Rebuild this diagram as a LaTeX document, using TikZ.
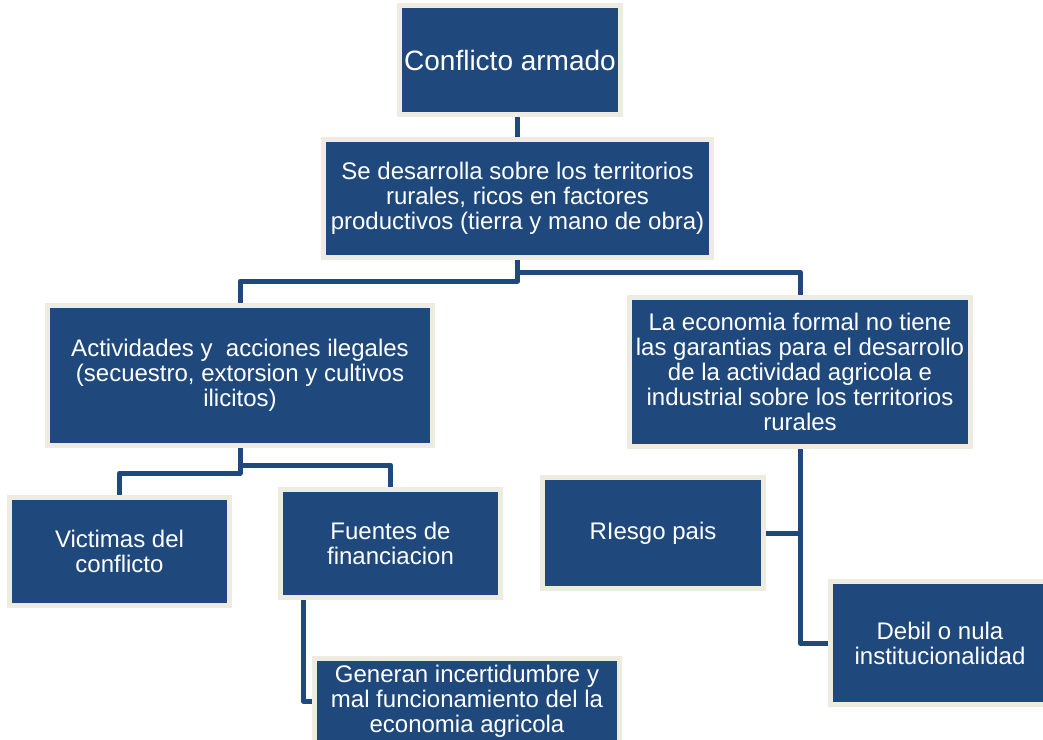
\documentclass[tikz,border=0pt]{standalone}
\usepackage{fontspec}
\setmainfont{Liberation Sans}
\usetikzlibrary{backgrounds}
\definecolor{boxblue}{HTML}{1F497D}
\definecolor{boxcream}{HTML}{EEECE1}
\tikzset{
	box/.style={rectangle, fill=boxblue, draw=boxcream, line width=5pt, text=white, align=center, inner sep=0pt, font=\fontsize{24}{25}\selectfont},
	link/.style={draw=boxblue, line width=5pt, line join=round}
}
\begin{document}
\begin{tikzpicture}[x=1pt, y=-1pt]
	
	\path[use as bounding box, clip] (0,0) rectangle (1043,739);
	
	% top
	\node[box, minimum width=221pt, minimum height=109pt, font=\fontsize{28}{30}\selectfont] (conflicto) at (510,60) {Conflicto armado};
	\node[box, minimum width=388pt, minimum height=118pt] (desarrolla) at (517.5,198.5) {Se desarrolla sobre los territorios\\rurales, ricos en factores\\productivos (tierra y mano de obra)};
	
	% second row
	\node[box, minimum width=385pt, minimum height=140pt] (actividades) at (240,375.5) {Actividades y~ acciones ilegales\\(secuestro, extorsion y cultivos\\ilicitos)};
	\node[box, minimum width=341pt, minimum height=149pt] (economia) at (800,372) {La economia formal no tiene\\las garantias para el desarrollo\\de la actividad agricola e\\industrial sobre los territorios\\rurales};
	
	% left branch
	\node[box, minimum width=220pt, minimum height=108pt] (victimas) at (119.5,551.5) {Victimas del\\conflicto};
	\node[box, minimum width=220pt, minimum height=108pt] (fuentes) at (390.5,543.5) {Fuentes de\\financiacion};
	\node[box, minimum width=305pt, minimum height=85pt] (generan) at (467,701) {Generan incertidumbre y\\mal funcionamiento del la\\economia agricola};
	
	% right branch
	\node[box, minimum width=221pt, minimum height=111pt] (riesgo) at (653,533) {RIesgo pais};
	\node[box, minimum width=219pt, minimum height=123pt] (debil) at (940,643) {Debil o nula\\institucionalidad};
	
	% connectors
	\begin{scope}[on background layer]
		\draw[link] (desarrolla.north) -- (desarrolla.north |- conflicto.south);
		\draw[link] (desarrolla.south) -- ++(0,21) -| (actividades.north);
		\draw[link] (desarrolla.south) -- ++(0,12) -| (economia.north);
		\draw[link] (actividades.south) -- ++(0,25) -| (victimas.north);
		\draw[link] (actividades.south) -- ++(0,17) -| (fuentes.north);
		\draw[link] ([xshift=25pt]fuentes.south west) |- (generan.west);
		\draw[link] (economia.south) |- (debil.west);
		\draw[link] (riesgo.east) -- (riesgo.east -| economia.south);
	\end{scope}
	
\end{tikzpicture}
\end{document}
